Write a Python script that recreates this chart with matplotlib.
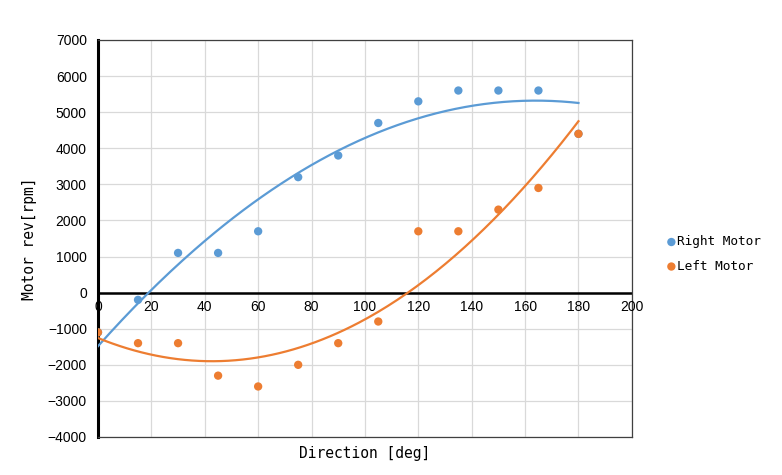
import numpy as np
import matplotlib.pyplot as plt

# Данные
direction = [0, 15, 30, 45, 60, 75, 90, 105, 120, 135, 150, 165, 180]
right_motor = [-1100, -200, 1100, 1100, 1700, 3200, 3800, 4700, 5300, 5600, 5600, 5600, 4400]
left_motor = [-1100, -1400, -1400, -2300, -2600, -2000, -1400, -800, 1700, 1700, 2300, 2900, 4400]

blue = '#5B9BD5'
orange = '#ED7D31'
num_font = 'Liberation Sans'
mono_font = 'DejaVu Sans Mono'

fig = plt.figure(figsize=(7.82, 4.75), dpi=100)
ax = fig.add_axes([0.1253, 0.08, 0.808 - 0.1253, 0.9158 - 0.08])

x = np.array(direction)
xs = np.linspace(x.min(), x.max(), 200)

# Тренды (полином 2-й степени, как в Excel)
for vals, c, name in [(right_motor, blue, 'Right Motor'), (left_motor, orange, 'Left Motor')]:
    coef = np.polyfit(x, np.array(vals), 2)
    ax.plot(xs, np.polyval(coef, xs), color=c, lw=1.6, zorder=3)
    ax.scatter(x, vals, s=36, color=c, zorder=4, label=name, edgecolors='none')

ax.set_xlim(0, 200)
ax.set_ylim(-4000, 7000)
ax.set_xticks(range(0, 201, 20))
ax.set_yticks(range(-4000, 7001, 1000))
ax.grid(True, color='#D9D9D9', lw=0.9)
ax.set_axisbelow(True)

ax.axhline(0, color='black', lw=1.8, zorder=2)
ax.spines['left'].set_linewidth(2.2)
ax.spines['left'].set_color('black')
for s in ['top', 'right', 'bottom']:
    ax.spines[s].set_color('#404040')
    ax.spines[s].set_linewidth(0.9)

ax.tick_params(length=0)
ax.set_xticklabels([])
for t in ax.get_yticklabels():
    t.set_fontfamily(num_font)
    t.set_fontsize(10)
ax.tick_params(axis='y', pad=8)

# Подписи оси X вдоль линии y=0
for v in range(0, 201, 20):
    ax.annotate(str(v), (v, 0), xytext=(0, -5), textcoords='offset points',
                ha='center', va='top', fontsize=10, family=num_font)

ax.set_xlabel('Direction [deg]', fontsize=10.5, family=mono_font, labelpad=3)
ax.set_ylabel('Motor rev[rpm]', fontsize=10.5, family=mono_font, labelpad=8)

leg = fig.legend(loc='center left', bbox_to_anchor=(0.843, 0.465), frameon=False,
                 handletextpad=0.0, handlelength=0.9, labelspacing=0.9,
                 borderpad=0, prop={'family': mono_font, 'size': 9.2})

fig.savefig('out.png', dpi=100)
